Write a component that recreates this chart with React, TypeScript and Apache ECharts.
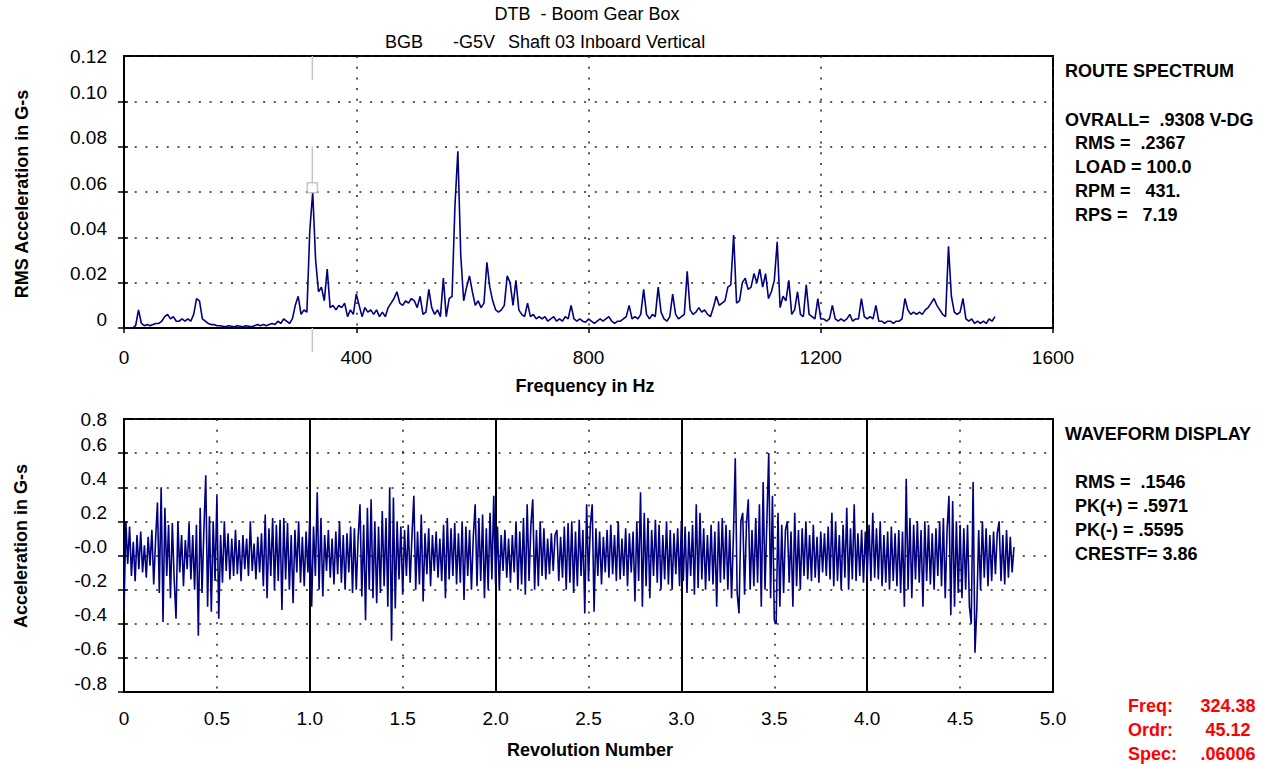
import React, { useEffect, useRef } from 'react';
import * as echarts from 'echarts';

// ---------- DATA ----------
const spectrumStepHz = 5;
// RMS acceleration (G-s), 0 .. 1500 Hz, every 5 Hz
const spectrumValues = [
  0, 0, 0, 0, .001, .008, .002, .001, .0015, .001, .0015, .002, .002, .003, .005, .006, .004, .005, .003, .003,
  .004, .003, .004, .003, .006, .013, .012, .004, .003, .002, .0015, .0015, .001, .001, .0008, .0005, .001, .0008, .0005, .001,
  .0008, .0005, .001, .0008, .0005, .001, .0015, .001, .0015, .001, .0015, .002, .0015, .003, .002, .004, .003, .002, .004, .010,
  .014, .006, .008, .007, .043, .060, .030, .016, .018, .012, .026, .009, .010, .008, .010, .009, .011, .005, .008, .006,
  .015, .010, .005, .009, .007, .008, .006, .008, .005, .007, .005, .009, .011, .013, .016, .011, .010, .012, .011, .013,
  .012, .009, .014, .006, .007, .017, .009, .006, .008, .005, .022, .005, .013, .014, .054, .078, .032, .012, .018, .023,
  .016, .010, .012, .009, .011, .029, .018, .012, .008, .007, .008, .010, .023, .020, .010, .021, .008, .006, .005, .011,
  .005, .006, .004, .005, .004, .005, .003, .004, .005, .003, .004, .003, .005, .004, .010, .004, .003, .004, .003, .0025,
  .004, .003, .002, .003, .004, .003, .004, .005, .003, .002, .003, .003, .004, .005, .010, .004, .005, .004, .006, .017,
  .006, .004, .006, .005, .018, .007, .004, .003, .005, .015, .006, .004, .005, .006, .025, .008, .006, .007, .009, .007,
  .008, .006, .005, .009, .014, .010, .011, .012, .018, .019, .041, .011, .012, .020, .022, .017, .018, .024, .020, .026,
  .018, .024, .013, .016, .021, .038, .009, .014, .012, .021, .006, .008, .016, .006, .005, .019, .006, .005, .004, .013,
  .004, .004, .003, .004, .010, .004, .003, .004, .003, .004, .006, .003, .004, .004, .013, .005, .004, .005, .004, .010,
  .003, .003, .002, .003, .003, .002, .003, .003, .004, .013, .008, .006, .007, .006, .007, .006, .008, .009, .011, .013,
  .010, .008, .006, .005, .036, .014, .007, .006, .007, .013, .004, .003, .004, .002, .003, .002, .003, .002, .004, .003,
  .005,
];

const waveStepRev = 0.01;
// Acceleration (G-s), 0 .. 4.79 revolutions, every 0.01 rev
const waveformValues = [
  -0.33, 0.20, -0.05, 0.17, -0.12, 0.08, -0.15, 0.12, -0.08, 0.14,
  -0.10, 0.06, -0.13, 0.11, -0.06, 0.15, -0.17, 0.09, 0.31, -0.22,
  0.40, -0.39, 0.28, -0.12, 0.18, -0.25, 0.19, -0.14, -0.37, 0.20,
  -0.10, 0.12, -0.18, 0.09, -0.08, 0.19, -0.14, 0.12, -0.20, 0.18,
  -0.47, 0.28, -0.22, 0.15, 0.47, -0.30, 0.23, -0.33, 0.20, -0.15,
  0.35, -0.37, 0.12, -0.16, 0.20, -0.09, 0.13, -0.14, 0.10, -0.12,
  0.15, -0.11, 0.09, -0.15, 0.12, -0.08, 0.10, -0.12, 0.20, -0.09,
  0.07, -0.14, 0.11, -0.10, 0.13, -0.18, 0.24, -0.25, 0.16, -0.12,
  0.22, -0.20, 0.18, -0.15, 0.21, -0.32, 0.22, -0.14, 0.19, -0.20,
  0.12, -0.28, 0.15, -0.10, 0.20, -0.16, 0.11, -0.18, 0.14, -0.10,
  0.23, -0.30, 0.17, -0.12, 0.37, -0.20, 0.22, -0.24, 0.12, -0.09,
  0.15, -0.13, 0.10, -0.17, 0.14, -0.11, 0.20, -0.16, 0.12, -0.20,
  0.13, -0.10, 0.17, -0.22, 0.16, -0.20, 0.10, 0.30, -0.24, 0.18,
  -0.38, 0.28, -0.20, 0.33, -0.25, 0.20, -0.28, 0.17, -0.22, 0.26,
  -0.18, 0.22, -0.30, 0.40, -0.50, 0.34, -0.31, 0.20, -0.14, 0.17,
  -0.23, 0.15, -0.12, 0.18, -0.16, 0.12, 0.35, -0.20, 0.14, -0.17,
  0.24, -0.27, 0.13, -0.11, 0.16, -0.18, 0.12, -0.09, 0.14, -0.13,
  0.10, -0.15, 0.18, -0.25, 0.22, -0.14, 0.16, -0.12, 0.19, -0.17,
  0.13, -0.16, 0.20, -0.26, 0.17, -0.12, 0.15, -0.20, 0.11, 0.30,
  -0.18, 0.22, -0.15, 0.24, -0.25, 0.16, -0.20, 0.25, -0.14, 0.35,
  -0.17, 0.17, -0.20, 0.12, -0.09, 0.15, -0.13, 0.10, -0.16, 0.12,
  -0.10, 0.20, -0.20, 0.14, -0.17, 0.22, -0.23, 0.30, -0.15, 0.18,
  0.33, -0.20, 0.15, -0.18, 0.20, -0.12, 0.16, -0.14, 0.10, -0.11,
  0.13, -0.09, 0.12, 0.15, -0.15, 0.11, -0.13, 0.17, -0.20, 0.19,
  -0.16, 0.20, -0.22, 0.14, -0.18, 0.21, -0.12, 0.15, -0.34, 0.30,
  -0.15, 0.18, 0.30, -0.33, 0.16, -0.12, 0.14, -0.17, 0.11, -0.10,
  0.15, -0.13, 0.18, -0.11, 0.12, -0.15, 0.20, -0.14, 0.10, -0.12,
  0.16, -0.18, 0.13, -0.10, 0.14, -0.27, 0.20, -0.15, 0.37, -0.30,
  0.25, -0.18, 0.22, -0.25, 0.15, -0.12, 0.21, -0.16, 0.18, -0.20,
  0.12, -0.14, 0.20, -0.17, 0.15, -0.20, 0.13, -0.11, 0.16, -0.18,
  0.20, -0.15, 0.17, -0.22, 0.14, -0.12, 0.18, -0.23, 0.30, -0.19,
  0.25, -0.14, 0.16, -0.20, 0.12, -0.15, 0.18, -0.17, 0.14, -0.30,
  0.20, -0.16, 0.22, -0.14, 0.18, -0.20, 0.15, -0.25, 0.12, 0.57,
  -0.22, -0.34, 0.20, 0.25, -0.23, 0.18, 0.33, -0.20, 0.15, -0.18,
  0.22, -0.16, 0.30, -0.30, 0.43, -0.20, 0.20, 0.60, -0.25, 0.35,
  -0.38, -0.40, 0.25, -0.30, 0.18, -0.22, 0.15, 0.20, -0.16, 0.14,
  -0.30, 0.25, -0.18, 0.15, -0.20, 0.16, -0.12, 0.20, -0.14, 0.12,
  -0.15, 0.18, -0.13, 0.11, -0.16, 0.14, -0.10, 0.13, -0.12, 0.17,
  -0.14, 0.25, -0.18, 0.20, -0.15, 0.12, -0.20, 0.18, -0.13, 0.28,
  -0.20, 0.16, -0.14, 0.30, -0.15, 0.13, -0.12, 0.15, -0.16, 0.14,
  -0.12, 0.18, -0.15, 0.25, -0.13, 0.16, -0.14, 0.20, -0.18, 0.12,
  -0.16, 0.14, -0.20, 0.17, -0.15, 0.13, -0.18, 0.15, -0.22, 0.14,
  -0.30, 0.45, -0.20, 0.22, -0.25, 0.18, -0.14, 0.20, -0.16, 0.15,
  -0.30, 0.20, -0.15, 0.18, -0.17, 0.13, -0.20, 0.16, -0.12, 0.20,
  -0.18, 0.22, -0.25, 0.15, 0.35, -0.35, 0.32, -0.30, 0.20, -0.22,
  0.18, -0.25, 0.16, -0.20, 0.18, -0.30, -0.40, 0.43, -0.57, -0.31,
  0.15, -0.20, 0.20, -0.13, 0.16, -0.18, 0.12, -0.15, 0.14, -0.11,
  0.13, 0.20, -0.15, 0.12, -0.17, 0.15, -0.13, 0.11, -0.10, 0.05,
];

// axes
const freqAxis = { min: 0, max: 1600, interval: 400 };
const specAxis = { min: 0, max: 0.12, interval: 0.02 };
const revAxis = { min: 0, max: 5, interval: 0.5, major: 1 };
const waveAxis = { min: -0.8, max: 0.8, interval: 0.2 };

// cursor
const cursorFreq = 324.38;
const cursorSpec = 0.06006;
const cursorSegments = [
  [0.12, 0.1094],
  [0.08, 0.0626],
  [0, -0.0106],
];

const titleLine1 = 'DTB  - Boom Gear Box';
const titleLine2 = ['BGB', '-G5V', 'Shaft 03 Inboard Vertical'];
const routeHeader = 'ROUTE SPECTRUM';
const routeOverall = 'OVRALL=\u00a0 .9308 V-DG';
const routeLines = ['RMS =\u00a0 .2367', 'LOAD = 100.0', 'RPM =\u00a0\u00a0 431.', 'RPS =\u00a0\u00a0 7.19'];
const waveHeader = 'WAVEFORM DISPLAY';
const waveLines = ['RMS =\u00a0 .1546', 'PK(+) = .5971', 'PK(-) = .5595', 'CRESTF= 3.86'];
const cursorLabels = ['Freq:', 'Ordr:', 'Spec:'];
const cursorReadout = ['324.38', '45.12', '.06006'];

const FONT = '"Liberation Sans", Arial, Helvetica, sans-serif';
const NAVY = '#000080';

function txt(text: string, x: number, y: number, opts: any = {}) {
  const align = opts.align || 'left';
  return {
    type: 'text',
    x,
    y,
    rotation: opts.rotation || 0,
    z: 10,
    style: {
      text,
      fontFamily: FONT,
      fontSize: opts.size || 18,
      fontWeight: opts.weight || 'normal',
      fill: opts.color || '#000',
      align,
      textAlign: align,
      verticalAlign: 'middle',
      textVerticalAlign: 'middle',
    },
  };
}

const fmtSpec = (v: number) => (Math.abs(v) < 1e-9 ? '0' : v.toFixed(2));
const fmtWave = (v: number) => (Math.abs(v) < 1e-9 ? '-0.0' : v.toFixed(1));

export default function App() {
  const ref = useRef<HTMLDivElement>(null);

  useEffect(() => {
    if (!ref.current) return;
    const chart = echarts.init(ref.current, undefined, { renderer: 'svg' });

    const dotted = { color: '#222', width: 1.5, type: [2, 8.7] as any };
    const axisLineStyle = { show: true, onZero: false, lineStyle: { color: '#000', width: 2 } };
    const tickLabel = { fontFamily: FONT, fontSize: 19, color: '#000' };

    const graphics: any[] = [];
    graphics.push(txt(titleLine1, 587, 14, { align: 'center' }));
    graphics.push(txt(titleLine2[0], 385, 42));
    graphics.push(txt(titleLine2[1], 453, 42));
    graphics.push(txt(titleLine2[2], 508, 42));
    graphics.push(txt(routeHeader, 1065, 71, { weight: 'bold' }));
    graphics.push(txt(routeOverall, 1065, 120, { weight: 'bold' }));
    routeLines.forEach((s, i) => graphics.push(txt(s, 1075, 143 + i * 24, { weight: 'bold' })));
    graphics.push(txt(waveHeader, 1065, 434, { weight: 'bold' }));
    waveLines.forEach((s, i) => graphics.push(txt(s, 1075, 482 + i * 24, { weight: 'bold' })));
    cursorLabels.forEach((s, i) => graphics.push(txt(s, 1128, 706 + i * 24, { weight: 'bold', color: '#ff0000' })));
    cursorReadout.forEach((s, i) =>
      graphics.push(txt(s, 1228, 706 + i * 24, { weight: 'bold', color: '#ff0000', align: 'center' }))
    );
    graphics.push(txt('RMS Acceleration in G-s', 22, 194, { weight: 'bold', rotation: Math.PI / 2, align: 'center' }));
    graphics.push(txt('Frequency in Hz', 585, 386, { weight: 'bold', align: 'center' }));
    graphics.push(txt('Acceleration in G-s', 21, 546, { weight: 'bold', rotation: Math.PI / 2, align: 'center' }));
    graphics.push(txt('Revolution Number', 590, 750, { weight: 'bold', align: 'center' }));

    const cursorSeries = cursorSegments.map((seg) => ({
      type: 'line',
      xAxisIndex: 0,
      yAxisIndex: 0,
      data: seg.map((v) => [cursorFreq, v]),
      symbol: 'none',
      clip: false,
      silent: true,
      lineStyle: { color: '#c4c4c4', width: 1.5 },
      z: 2,
    }));

    const mainY = (gridIndex: number, ax: any, fmt: (v: number) => string) => ({
      type: 'value', gridIndex, position: 'left',
      min: ax.min, max: ax.max, interval: ax.interval,
      axisLine: axisLineStyle,
      axisTick: { show: true, length: 6, lineStyle: { color: '#000', width: 1.5 } },
      axisLabel: {
        ...tickLabel, margin: 17, lineHeight: 18, verticalAlign: 'bottom',
        showMinLabel: true, showMaxLabel: false, formatter: fmt,
      },
      splitLine: { show: true, lineStyle: dotted },
    });
    const rightY = (gridIndex: number, ax: any) => ({
      type: 'value', gridIndex, position: 'right',
      min: ax.min, max: ax.max, interval: ax.interval,
      axisLine: { show: false },
      axisTick: { show: true, length: 4, lineStyle: { color: '#000', width: 1.5 } },
      axisLabel: { show: false },
      splitLine: { show: false },
    });
    // axis carrying only the top (max) label, centred on the top border
    const topLabelY = (gridIndex: number, ax: any, fmt: (v: number) => string) => ({
      type: 'value', gridIndex, position: 'left',
      min: ax.min, max: ax.max,
      axisLine: { show: false },
      axisTick: { show: false },
      splitLine: { show: false },
      axisLabel: {
        ...tickLabel, margin: 17, verticalAlign: 'middle', padding: [5, 0, 0, 0],
        customValues: [ax.max], formatter: fmt,
      },
    });

    const option: any = {
      animation: false,
      backgroundColor: '#fff',
      textStyle: { fontFamily: FONT },
      grid: [
        { left: 124, top: 56, width: 929, height: 272, show: true, borderColor: '#000', borderWidth: 2, containLabel: false },
        { left: 124, top: 419, width: 929, height: 273, show: true, borderColor: '#000', borderWidth: 2, containLabel: false },
      ],
      xAxis: [
        {
          type: 'value', gridIndex: 0, position: 'bottom',
          min: freqAxis.min, max: freqAxis.max, interval: freqAxis.interval,
          axisLine: axisLineStyle,
          axisTick: { show: true, length: 5, lineStyle: { color: '#000', width: 1.5 } },
          axisLabel: { ...tickLabel, margin: 20, showMinLabel: true, showMaxLabel: true, formatter: (v: number) => String(Math.round(v)) },
          splitLine: { show: true, lineStyle: dotted },
        },
        {
          type: 'value', gridIndex: 1, position: 'bottom',
          min: revAxis.min, max: revAxis.max, interval: revAxis.interval,
          axisLine: axisLineStyle,
          axisTick: { show: false },
          axisLabel: {
            ...tickLabel, margin: 17, showMinLabel: true, showMaxLabel: true,
            formatter: (v: number) => (Math.abs(v) < 1e-9 ? '0' : v.toFixed(1)),
          },
          splitLine: { show: true, lineStyle: dotted },
        },
        {
          type: 'value', gridIndex: 1, position: 'bottom',
          min: revAxis.min, max: revAxis.max, interval: revAxis.major,
          axisLine: { show: false },
          axisTick: { show: false },
          axisLabel: { show: false },
          splitLine: { show: true, lineStyle: { color: '#000', width: 2, type: 'solid' } },
        },
      ],
      yAxis: [
        mainY(0, specAxis, fmtSpec),
        rightY(0, specAxis),
        mainY(1, waveAxis, fmtWave),
        rightY(1, waveAxis),
        topLabelY(0, specAxis, fmtSpec),
        topLabelY(1, waveAxis, fmtWave),
      ],
      series: [
        ...cursorSeries,
        {
          name: 'Route Spectrum',
          type: 'line',
          xAxisIndex: 0,
          yAxisIndex: 0,
          data: spectrumValues.map((v, i) => [i * spectrumStepHz, v]),
          symbol: 'none',
          lineStyle: { color: NAVY, width: 1.6 },
          z: 3,
        },
        {
          name: 'Cursor',
          type: 'scatter',
          xAxisIndex: 0,
          yAxisIndex: 0,
          data: [[cursorFreq, cursorSpec]],
          symbol: 'rect',
          symbolSize: 10,
          symbolOffset: [0, -4],
          itemStyle: { color: '#fff', borderColor: '#b8b8b8', borderWidth: 1.5 },
          z: 4,
        },
        {
          name: 'Waveform',
          type: 'line',
          xAxisIndex: 1,
          yAxisIndex: 2,
          data: waveformValues.map((v, i) => [i * waveStepRev, v]),
          symbol: 'none',
          lineStyle: { color: NAVY, width: 1.6 },
          z: 3,
        },
      ],
      graphic: graphics,
    };

    chart.setOption(option);
    return () => chart.dispose();
  }, []);

  return (
    <div
      ref={ref}
      style={{ position: 'fixed', left: 0, top: 0, width: 1262, height: 764, background: '#fff' }}
    />
  );
}
